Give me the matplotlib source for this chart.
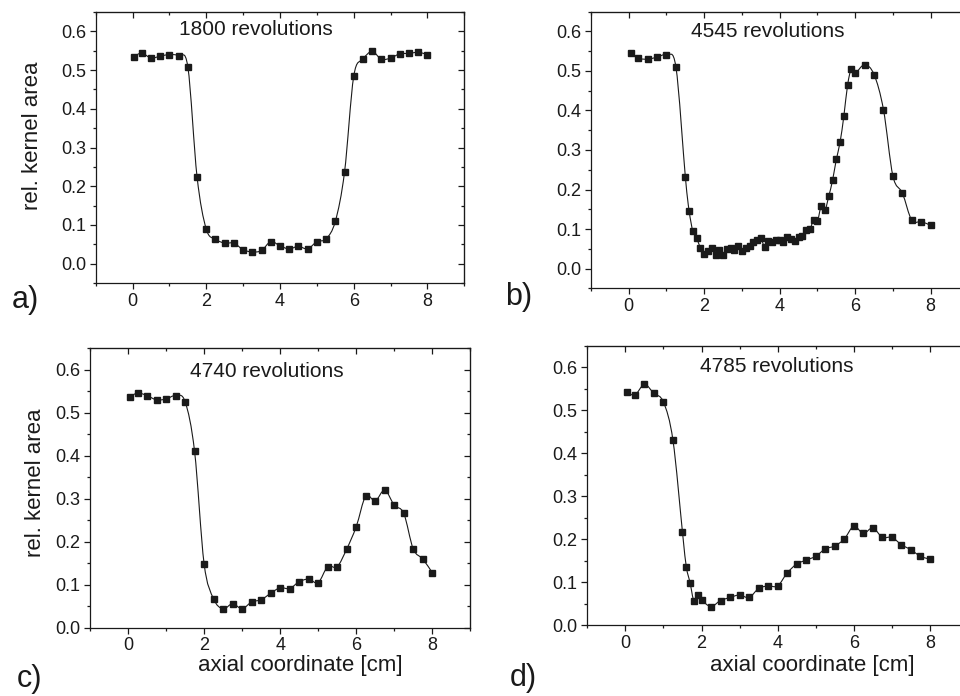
import numpy as np
import matplotlib
matplotlib.use("Agg")
import matplotlib.pyplot as plt
from matplotlib.path import Path
from matplotlib.patches import PathPatch
from matplotlib.ticker import MultipleLocator

plt.rcParams['font.family'] = ['Liberation Sans', 'DejaVu Sans']

# panel a) 1800 revolutions
xa = [0.03, 0.25, 0.5, 0.75, 1.0, 1.25, 1.5, 1.75, 2.0, 2.25, 2.5, 2.75, 3.0, 3.25, 3.5, 3.75,
      4.0, 4.25, 4.5, 4.75, 5.0, 5.25, 5.5, 5.75, 6.0, 6.25, 6.5, 6.75, 7.0, 7.25, 7.5, 7.75, 8.0]
ya = [0.534, 0.544, 0.531, 0.536, 0.540, 0.536, 0.508, 0.224, 0.089, 0.063, 0.053, 0.053, 0.036,
      0.030, 0.034, 0.057, 0.046, 0.038, 0.045, 0.038, 0.057, 0.064, 0.109, 0.236, 0.484, 0.528,
      0.548, 0.528, 0.531, 0.542, 0.543, 0.546, 0.540]

# panel b) 4545 revolutions
xb = [0.05, 0.25, 0.5, 0.75, 1.0, 1.25,
      1.5, 1.6, 1.7, 1.8, 1.9, 2.0, 2.1, 2.2, 2.3, 2.4,
      2.5, 2.6, 2.7, 2.8, 2.9, 3.0, 3.1, 3.2, 3.3, 3.4,
      3.5, 3.6, 3.7, 3.8, 3.9, 4.0, 4.1, 4.2, 4.3, 4.4,
      4.5, 4.6, 4.7, 4.8, 4.9, 5.0, 5.1, 5.2, 5.3, 5.4,
      5.5, 5.6, 5.7, 5.8, 5.9, 6.0,
      6.25, 6.5, 6.75, 7.0, 7.25, 7.5, 7.75, 8.0]
yb = [0.545, 0.532, 0.530, 0.535, 0.540, 0.510,
      0.232, 0.146, 0.094, 0.077, 0.052, 0.038, 0.044, 0.052, 0.035, 0.046,
      0.035, 0.049, 0.052, 0.046, 0.057, 0.044, 0.051, 0.056, 0.066, 0.072,
      0.077, 0.055, 0.069, 0.067, 0.072, 0.072, 0.066, 0.079, 0.075, 0.069,
      0.080, 0.082, 0.097, 0.099, 0.124, 0.120, 0.158, 0.148, 0.183, 0.223,
      0.276, 0.320, 0.386, 0.465, 0.506, 0.494,
      0.516, 0.491, 0.402, 0.234, 0.191, 0.122, 0.119, 0.109]

# panel c) 4740 revolutions
xc = [0.04, 0.25, 0.5, 0.75, 1.0, 1.25, 1.5, 1.75, 2.0, 2.25, 2.5, 2.75, 3.0, 3.25, 3.5, 3.75,
      4.0, 4.25, 4.5, 4.75, 5.0, 5.25, 5.5, 5.75, 6.0, 6.25, 6.5, 6.75, 7.0, 7.25, 7.5, 7.75, 8.0]
yc = [0.536, 0.546, 0.540, 0.530, 0.532, 0.540, 0.526, 0.410, 0.149, 0.067, 0.044, 0.056, 0.044,
      0.060, 0.065, 0.080, 0.093, 0.091, 0.107, 0.113, 0.105, 0.142, 0.142, 0.183, 0.235, 0.306,
      0.295, 0.320, 0.285, 0.266, 0.183, 0.160, 0.128]

# panel d) 4785 revolutions
xd = [0.05, 0.25, 0.5, 0.75, 1.0, 1.25, 1.5, 1.6, 1.7, 1.8, 1.9, 2.0, 2.25, 2.5, 2.75, 3.0,
      3.25, 3.5, 3.75, 4.0, 4.25, 4.5, 4.75, 5.0, 5.25, 5.5, 5.75, 6.0, 6.25, 6.5, 6.75, 7.0,
      7.25, 7.5, 7.75, 8.0]
yd = [0.543, 0.535, 0.560, 0.539, 0.519, 0.430, 0.216, 0.136, 0.098, 0.056, 0.069, 0.058, 0.043,
      0.057, 0.064, 0.070, 0.064, 0.085, 0.091, 0.091, 0.121, 0.142, 0.151, 0.160, 0.177, 0.184,
      0.200, 0.230, 0.213, 0.226, 0.204, 0.204, 0.187, 0.175, 0.160, 0.153]

titles = ['1800 revolutions', '4545 revolutions', '4740 revolutions', '4785 revolutions']
letters = ['a)', 'b)', 'c)', 'd)']

ink = '#1a1a1a'


def spline_path(x, y):
    # Catmull-Rom through the points, drawn as cubic bezier segments
    p = np.column_stack([x, y])
    n = len(p)
    verts = [p[0]]
    codes = [Path.MOVETO]
    for i in range(n - 1):
        p0 = p[max(i - 1, 0)]
        p1 = p[i]
        p2 = p[i + 1]
        p3 = p[min(i + 2, n - 1)]
        verts += [p1 + (p2 - p0) / 6, p2 - (p3 - p1) / 6, p2]
        codes += [Path.CURVE4] * 3
    return Path(verts, codes)


fig = plt.figure(figsize=(9.6, 6.96), dpi=100)
W, H = 960, 696

# left, right, top, bottom in pixels
boxes = [(95.7, 464.3, 12, 283), (591, 968.4, 11.7, 288.3),
         (90, 470.3, 348.3, 627.7), (587.3, 968, 345.7, 625)]
ylims = [(-0.05, 0.65), (-0.05, 0.65), (0, 0.65), (0, 0.65)]
title_pos = [(3.34, 0.59), (3.69, 0.585), (3.64, 0.584), (3.98, 0.588)]
letter_pos = [(12, 308), (505, 305), (17, 687), (510, 686)]
data = [(xa, ya), (xb, yb), (xc, yc), (xd, yd)]

for k in range(4):
    l, r, t, b = boxes[k]
    ax = fig.add_axes([l / W, 1 - b / H, (r - l) / W, (b - t) / H])
    x, y = data[k]
    ax.add_patch(PathPatch(spline_path(x, y), fc='none', ec=ink, lw=0.8))
    ax.plot(x, y, 's', ms=4.8, color=ink, mec=ink)
    ax.set_xlim(-1, 9)
    ax.set_ylim(*ylims[k])
    ax.set_xticks([0, 2, 4, 6, 8])
    ax.set_yticks([0.0, 0.1, 0.2, 0.3, 0.4, 0.5, 0.6])
    ax.yaxis.set_major_formatter(plt.FormatStrFormatter('%.1f'))
    ax.xaxis.set_minor_locator(MultipleLocator(1))
    ax.yaxis.set_minor_locator(MultipleLocator(0.05))
    ax.tick_params(which='both', direction='out', labelsize=13, colors=ink, width=0.9)
    ax.tick_params(which='major', length=4, pad=3)
    ax.tick_params(which='minor', length=2.5)
    for s in ax.spines.values():
        s.set_linewidth(0.9)
        s.set_color(ink)

    top = ax.secondary_xaxis('top')
    top.set_xticks([0, 2, 4, 6, 8])
    top.xaxis.set_minor_locator(MultipleLocator(1))
    top.tick_params(which='both', direction='in', labeltop=False, colors=ink, width=0.9)
    top.tick_params(which='major', length=4)
    top.tick_params(which='minor', length=2.5)
    right = ax.secondary_yaxis('right')
    right.set_yticks([0.0, 0.1, 0.2, 0.3, 0.4, 0.5, 0.6])
    right.yaxis.set_minor_locator(MultipleLocator(0.05))
    right.tick_params(which='both', direction='in', labelright=False, colors=ink, width=0.9)
    right.tick_params(which='major', length=4)
    right.tick_params(which='minor', length=2.5)

    ax.text(title_pos[k][0], title_pos[k][1], titles[k], ha='center', va='baseline',
            fontsize=15, color=ink)
    fig.text(letter_pos[k][0] / W, 1 - letter_pos[k][1] / H, letters[k], ha='left',
             va='baseline', fontsize=22, color=ink)

    if k in (0, 2):
        ax.set_ylabel('rel. kernel area', fontsize=16, color=ink)
    if k in (2, 3):
        ax.set_xlabel('axial coordinate [cm]', fontsize=16, color=ink)

    if k == 0:
        ax.yaxis.set_label_coords(-0.143, 0.542)
    if k == 2:
        ax.yaxis.set_label_coords(-0.117, 0.518)
        ax.xaxis.set_label_coords(0.552, -0.097)
    if k == 3:
        ax.xaxis.set_label_coords(0.590, -0.107)

fig.savefig('out.png', dpi=100)
